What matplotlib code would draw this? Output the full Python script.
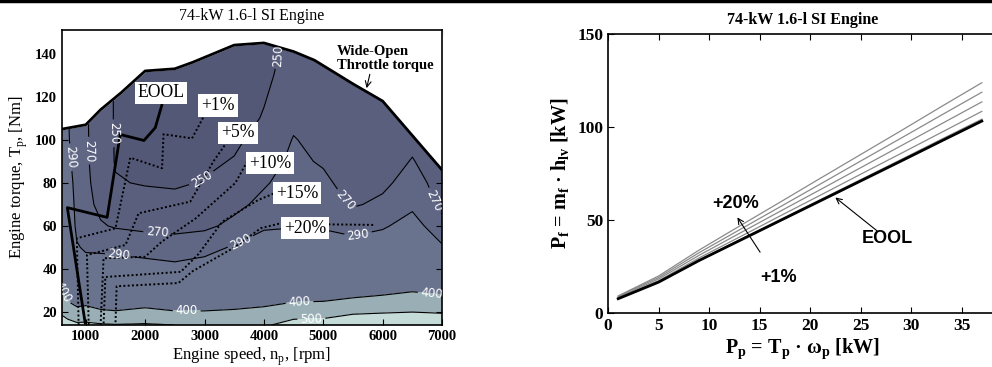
import numpy as np
import matplotlib
matplotlib.use('Agg')
import matplotlib.pyplot as plt
from matplotlib.colors import ListedColormap, BoundaryNorm

plt.rcParams['font.family'] = 'Liberation Serif'
plt.rcParams['mathtext.fontset'] = 'custom'
plt.rcParams['mathtext.rm'] = 'Liberation Serif'
plt.rcParams['mathtext.bf'] = 'Liberation Serif:bold'

# ---------------- left map: BSFC [g/kWh] ----------------
speeds = [600, 700, 850, 1000, 1250, 1500, 2000, 2500, 3000, 3500, 4000,
          4500, 5000, 5500, 6000, 6500, 7000]
torques = [14, 20, 25, 30, 40, 50, 60, 70, 80, 90, 100, 110, 120, 130, 140, 151]
# one row per speed, values at each torque
bsfc = [
    [560, 480, 430, 400, 370, 350, 340, 330, 320, 315, 310, 310, 310, 310, 310, 310],
    [540, 450, 400, 370, 340, 320, 310, 305, 300, 295, 292, 291, 291, 291, 291, 291],
    [520, 420, 380, 350, 310, 292, 285, 283, 282, 281, 280, 280, 280, 280, 280, 280],
    [520, 430, 380, 340, 300, 287, 280, 276, 274, 273, 273, 273, 273, 273, 273, 273],
    [510, 410, 370, 335, 298, 287, 272, 265, 262, 260, 258, 256, 256, 256, 256, 256],
    [505, 405, 365, 330, 296, 287, 268, 262, 251, 249, 249, 249, 249, 249, 249, 249],
    [510, 420, 370, 330, 297, 283, 265, 256, 249, 245, 243, 242, 242, 242, 243, 245],
    [500, 405, 360, 325, 295, 280, 264, 255, 248, 244, 242, 241, 241, 241, 242, 244],
    [495, 405, 360, 325, 298, 284, 266, 258, 251, 247, 244, 242, 241, 241, 242, 244],
    [490, 410, 370, 340, 305, 292, 275, 265, 257, 251, 247, 244, 243, 243, 244, 246],
    [480, 420, 380, 345, 310, 298, 288, 275, 268, 262, 256, 251, 249, 248, 248, 249],
    [560, 425, 398, 360, 315, 300, 289, 283, 278, 274, 271, 266, 258, 254, 252, 252],
    [580, 420, 400, 365, 318, 300, 288, 280, 274, 268, 264, 261, 259, 258, 258, 258],
    [600, 480, 412, 375, 320, 297, 284, 268, 262, 259, 258, 257, 257, 258, 259, 260],
    [620, 490, 420, 385, 330, 305, 287, 274, 266, 262, 260, 259, 259, 260, 261, 262],
    [640, 500, 440, 395, 345, 318, 300, 285, 278, 271, 266, 264, 263, 263, 264, 265],
    [600, 490, 425, 385, 320, 293, 275, 266, 262, 260, 260, 260, 260, 260, 260, 260],
]
levels = [200, 250, 270, 290, 400, 500, 700]
band_colors = ['#545877', '#5a5f7e', '#606785', '#69738e', '#9aafb5', '#c5dbd7']

# wide open throttle torque
wot_n = [600, 1000, 1250, 1600, 2000, 2500, 2800, 3500, 4000, 4500, 4850, 5500, 6000, 7000]
wot_T = [105, 107, 114, 122, 132, 133, 136, 144, 145, 141, 137, 126, 118, 86]

# operating lines
eool_n = [990, 690, 1360, 1580, 1980, 2170, 2280]
eool_T = [15, 68.5, 64, 102.5, 99.7, 105.6, 116]
p1_n = [3010, 2790, 2310, 2285, 1750, 1500, 850, 880]
p1_T = [112, 100.7, 102.6, 86.8, 91.7, 58.9, 54.3, 14]
p5_n = [3380, 3150, 2760, 1890, 1670, 1020, 1050]
p5_T = [99, 90, 71.3, 65.9, 51.2, 46.5, 14]
p10_n = [3720, 3520, 2850, 2280, 2000, 1300, 1250]
p10_T = [90, 80, 63.5, 52.7, 45.7, 45, 14]
p15_n = [4160, 3900, 3300, 2900, 2600, 1330, 1300]
p15_T = [75, 72, 62, 47, 38.7, 36.3, 14]
p20_n = [5840, 4250, 3950, 3500, 2800, 2560, 1520, 1500]
p20_T = [60.5, 61, 59, 50, 39, 33.5, 32, 14]

# ---------------- right plot: fuel power vs. engine power ----------------
pp = [1, 5, 9, 13, 17, 21, 25, 29, 33, 37]
pf_eool = [7.7, 16.6, 28.2, 38.9, 49.6, 60.3, 71.0, 81.7, 92.5, 103.2]
pf_1 = [7.8, 16.8, 28.5, 39.3, 50.1, 60.9, 71.7, 82.5, 93.4, 104.2]
pf_5 = [8.1, 17.4, 29.6, 40.8, 52.1, 63.3, 74.6, 85.8, 97.1, 108.4]
pf_10 = [8.5, 18.3, 31.0, 42.8, 54.6, 66.3, 78.1, 89.9, 101.7, 113.5]
pf_15 = [8.9, 19.1, 32.4, 44.7, 57.0, 69.3, 81.7, 94.0, 106.4, 118.7]
pf_20 = [9.2, 19.9, 33.8, 46.7, 59.5, 72.4, 85.2, 98.0, 111.0, 123.8]

fig = plt.figure(figsize=(9.92, 3.67), dpi=100)
fig.add_artist(plt.Line2D([0, 1], [0.996, 0.996], color='black', lw=2.5))

# left
ax = fig.add_axes([0.0625, 0.1144, 0.3831, 0.8038])
N, T = np.meshgrid(speeds, torques, indexing='ij')
Z = np.array(bsfc)
cmap = ListedColormap(band_colors)
norm = BoundaryNorm(levels, cmap.N)
ax.contourf(N, T, Z, levels=levels, cmap=cmap, norm=norm, zorder=1)
cs = ax.contour(N, T, Z, levels=levels[1:-1], colors='black', linewidths=0.8, zorder=1.5)
lab_pos = [(4130, 140), (2950, 82), (1450, 103),
           (1100, 95), (2200, 56), (5330, 71), (6800, 71),
           (790, 92), (1550, 45), (3600, 53), (5600, 54),
           (650, 30), (2700, 19.5), (4600, 24), (6820, 27),
           (4800, 16.5)]
labels = ax.clabel(cs, manual=lab_pos, inline=True, fmt='%d', colors='white', fontsize=8.5)
for t in labels:
    t.set_family('DejaVu Sans')
ax.fill_between(wot_n, wot_T, 160, color='white', zorder=2)
ax.plot(wot_n, wot_T, color='black', lw=2, zorder=3)
ax.plot(eool_n, eool_T, color='black', lw=2, zorder=3)
for n_, t_ in [(p1_n, p1_T), (p5_n, p5_T), (p10_n, p10_T), (p15_n, p15_T), (p20_n, p20_T)]:
    ax.plot(n_, t_, color='black', lw=1.4, ls=(0, (1, 1.2)), zorder=3)

box = dict(facecolor='white', edgecolor='none', pad=2)
for txt, x, y in [('EOOL', 2267, 121.8), ('+1%', 3227, 116), ('+5%', 3564, 103.2),
                  ('+10%', 4103, 89.2), ('+15%', 4557, 75.3), ('+20%', 4692, 59)]:
    ax.text(x, y, txt, fontsize=12.7, ha='center', va='center', bbox=box, zorder=4)
ax.annotate('Wide-Open\nThrottle torque', xy=(5730, 124), xytext=(5225, 138),
            fontsize=10.5, fontweight='bold', ha='left', va='center', linespacing=1.1,
            arrowprops=dict(arrowstyle='->', color='black', lw=0.8,
                            shrinkA=0, shrinkB=0, relpos=(0.35, 0)), zorder=4)

ax.set_xlim(600, 7000)
ax.set_ylim(14, 151)
ax.set_xticks([1000, 2000, 3000, 4000, 5000, 6000, 7000])
ax.set_yticks([20, 40, 60, 80, 100, 120, 140])
ax.tick_params(direction='in', top=True, right=True, labelsize=10.5, length=4)
for t in ax.get_xticklabels() + ax.get_yticklabels():
    t.set_fontweight('bold')
ax.set_xlabel('Engine speed, n$_\\mathrm{p}$, [rpm]', fontsize=12, labelpad=2)
ax.set_ylabel('Engine torque, T$_\\mathrm{p}$, [Nm]', fontsize=12, labelpad=4)
ax.set_title('74-kW 1.6-l SI Engine', fontsize=11.5, pad=7)
for s in ax.spines.values():
    s.set_linewidth(1.2)

# right
ax2 = fig.add_axes([0.613, 0.1471, 0.392, 0.7602])
for y_ in [pf_20, pf_15, pf_10, pf_5, pf_1]:
    ax2.plot(pp, y_, color='#8a8a8a', lw=0.9)
ax2.plot(pp, pf_eool, color='black', lw=2)
sans = dict(family='Liberation Sans', fontweight='bold', fontsize=13)
ax2.text(12.6, 58.9, '+20%', ha='center', va='center', **sans)
ax2.annotate('', xy=(12.8, 51.4), xytext=(15.05, 32.7),
             arrowprops=dict(arrowstyle='->', color='black', lw=0.8, shrinkA=0, shrinkB=0))
ax2.text(16.9, 19.3, '+1%', ha='center', va='center', **sans)
ax2.text(27.6, 39.8, 'EOOL', ha='center', va='center', **sans)
ax2.annotate('', xy=(22.5, 62.1), xytext=(26.6, 44.3),
             arrowprops=dict(arrowstyle='->', color='black', lw=0.8, shrinkA=0, shrinkB=0))
ax2.set_xlim(0, 38.5)
ax2.set_ylim(0, 150)
ax2.set_xticks([0, 5, 10, 15, 20, 25, 30, 35])
ax2.set_yticks([0, 50, 100, 150])
ax2.tick_params(direction='in', top=True, right=False, labelsize=12.5, length=4)
for t in ax2.get_xticklabels() + ax2.get_yticklabels():
    t.set_fontweight('bold')
ax2.spines['right'].set_visible(False)
for s in ax2.spines.values():
    s.set_linewidth(1.2)
ax2.set_xlabel('P$_\\mathbf{p}$ = T$_\\mathbf{p}$ · ω$_\\mathbf{p}$ [kW]', fontsize=14.5,
               fontweight='bold', labelpad=2)
ax2.set_ylabel('P$_\\mathbf{f}$ = m$_\\mathbf{f}$ · h$_\\mathbf{lv}$ [kW]', fontsize=14.5,
               fontweight='bold', labelpad=4)
ax2.set_title('74-kW 1.6-l SI Engine', fontsize=11.5, fontweight='bold', pad=7)

fig.savefig('out.png', dpi=100)
